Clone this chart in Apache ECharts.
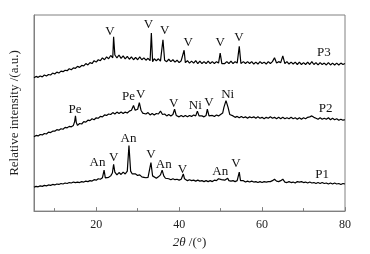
<!DOCTYPE html>
<html>
<head>
<meta charset="utf-8">
<script src="https://cdn.jsdelivr.net/npm/echarts@6/dist/echarts.min.js"></script>
<style>
  html, body { margin: 0; padding: 0; background: #fff; }
  #chart { width: 370px; height: 254px; }
</style>
</head>
<body>
<div id="chart"></div>
<script>
// 刻度
const majorTicks = [20, 40, 60, 80];
const minorTicks = [10, 30, 50, 70];

// 三条衍射谱 [2θ, 相对强度]
const p3 = [
  [5,140],[5.5,141.5],[6,140.5],[6.5,142],[7,141],[7.5,143],[8,142],[8.5,143.5],[9,143],[9.5,145],
  [10,144],[10.5,146],[11,145],[11.5,147],[12,146.5],[12.5,148],[13,147.5],[13.5,149.5],[14,148.5],[14.5,150.5],
  [15,150],[15.5,152],[16,151],[16.5,153],[17,152.5],[17.5,155],[18,153.5],[18.5,156],[19,155],[19.5,158],
  [20,156.5],[20.5,159],[21,158],[21.5,161],[22,159],[22.5,162],[23,160],[23.5,163.5],[24,161],[24.2,183],
  [24.5,164],[25,161],[25.5,164],[26,160.5],[26.5,163],[27,160],[27.5,162.5],[28,159.5],[28.5,162],[29,159],
  [29.5,161.5],[30,159],[30.5,162],[31,159],[31.5,161],[32,158.5],[32.5,160.5],[33,158],[33.3,187],[33.6,157],
  [34,160],[34.5,158],[35,160],[35.5,157.5],[36.1,180],[36.5,158.5],[37,157],[37.5,159.5],[38,157],[38.5,159],
  [39,156.5],[39.5,158.5],[40,156],[40.5,158],[41.2,169],[41.5,156],[42,158],[42.5,155.5],[43,157.5],[43.5,155.5],
  [44,158],[44.5,155],[45,157.5],[45.5,155],[46,157],[46.5,155],[47,157.5],[47.5,155],[48,157],[48.5,155],
  [49,157],[49.5,155.5],[49.9,166],[50.3,155],[50.5,157],[51,155],[51.5,157],[52,155],[52.5,157.5],[53,155],
  [53.5,157],[54,155.5],[54.5,173],[54.9,155],[55.5,157],[56,155],[56.5,157],[57,155],[57.5,157],[58,154.5],
  [58.5,156.5],[59,154.5],[59.5,157],[60,155],[60.5,156.5],[61,154.5],[61.5,157],[62,155],[62.5,157],[63,161],
  [63.5,155.5],[64,157],[64.5,156],[65,163],[65.5,155],[66,157],[66.5,154.5],[67,156.5],[67.5,154.5],[68,156.5],
  [68.5,154],[69,156.5],[69.5,154],[70,156],[70.5,154],[71,156.5],[71.5,154],[72,157],[72.5,154],[73,156],
  [73.5,153.5],[74,156],[74.5,154],[75,155.5],[75.5,153.5],[76,156],[76.5,153.5],[77,155.5],[77.5,153.5],[78,155.5],
  [78.5,153.5],[79,155.5],[79.5,154],[80,155]
];

const p2 = [
  [5,78],[5.5,79.5],[6,79],[6.5,80.5],[7,80],[7.5,81.5],[8,81],[8.5,83],[9,82.5],[9.5,84],
  [10,84],[10.5,85.5],[11,85],[11.5,86.5],[12,86],[12.5,88],[13,87.5],[13.5,89],[14,88.5],[14.5,90],
  [14.8,94],[15,100],[15.2,93],[15.5,90],[16,92],[16.5,91.5],[17,94],[17.5,93.5],[18,95.5],[18.5,95],
  [19,97],[19.5,96],[20,98],[20.5,97.5],[21,99.5],[21.5,99],[22,101],[22.5,100.5],[23,102],[23.5,101.5],
  [24,103.5],[24.5,102],[25,104],[25.5,102.5],[26,104],[26.5,102.5],[27,104],[27.5,103],[28,105],[28.5,106],
  [29,111],[29.4,106],[29.7,104],[30,107],[30.4,114],[30.8,106],[31.2,103],[31.5,104],[32,102],[32.5,103.5],
  [33,101],[33.5,102.5],[34,101],[34.5,102.5],[35,102],[35.5,105],[36,101.5],[36.5,102],[37,100],[37.5,101.5],
  [38,100],[38.5,101.5],[38.9,107],[39.3,100.5],[39.7,101],[40,99],[40.5,100.5],[41,99],[41.5,100.5],[42,99],
  [42.5,100.5],[43,99.5],[43.5,101],[44,100],[44.4,105],[44.8,100],[45.2,98.5],[45.5,100],[46,99],[46.5,100.5],
  [46.8,107],[47.2,100],[47.5,99],[48,100.5],[48.5,99.5],[49,101],[49.5,100],[50,101.5],[50.5,103],[50.8,109],
  [51.3,116],[51.8,109],[52.2,101.5],[52.5,99.5],[53,100],[53.5,98.5],[54,99.5],[54.5,98],[55,99.5],[55.5,98],
  [56,99],[56.5,97.5],[57,99],[57.5,98],[58,99],[58.5,97.5],[59,99],[59.5,97.5],[60,98.5],[60.5,97],
  [61,98.5],[61.5,97.5],[62,99],[62.5,97.5],[63,98.5],[63.5,97],[64,98.5],[64.5,97],[65,98.5],[65.5,97],
  [66,98],[66.5,97],[67,98.5],[67.5,97],[68,98],[68.5,96.5],[69,98],[69.5,96.5],[70,98],[70.5,97],
  [71,98.5],[71.5,99],[72,100],[72.5,98.5],[73,97.5],[73.5,96.5],[74,98],[74.5,96.5],[75,97.5],[75.5,96.5],
  [76,98],[76.5,96],[77,97.5],[77.5,96],[78,97],[78.5,95.5],[79,96.5],[79.5,95.5],[80,96]
];

const p1 = [
  [5,25],[5.5,26],[6,25.5],[6.5,26.5],[7,26],[7.5,27],[8,26.5],[8.5,27.5],[9,27],[9.5,28],
  [10,27.5],[10.5,28.5],[11,28],[11.5,29],[12,28.5],[12.5,29.5],[13,29],[13.5,30],[14,29.5],[14.5,30.5],
  [15,30],[15.5,30.5],[16,30],[16.5,31],[17,30.5],[17.5,31.5],[18,31],[18.5,32],[19,31.5],[19.5,33],
  [20,32.5],[20.5,34],[21,33.5],[21.5,35],[21.9,43],[22.2,35],[22.5,36],[23,35.5],[23.5,37],[23.9,40],
  [24.2,49],[24.5,41],[25,38],[25.5,40.5],[26,38.5],[26.5,41],[27,39],[27.5,42],[27.9,69],[28.3,42],
  [28.7,39],[29,38],[29.5,39],[30,37.5],[30.5,38],[31,36],[31.5,35.5],[32,35],[32.5,35.5],[33.2,51],
  [33.6,37],[34,35],[34.5,34.5],[35,36],[35.5,38],[35.9,43],[36.3,37],[36.7,34.5],[37,33.5],[37.5,34],
  [38,33],[38.5,34],[39,33],[39.5,33.5],[40,32.5],[40.5,33.5],[41,39],[41.3,34],[41.7,33],[42,32],
  [42.5,33],[43,32],[43.5,32.5],[44,31.5],[44.5,32.5],[45,31.5],[45.5,32],[46,31],[46.5,32],[47,31],
  [47.5,32],[48,31],[48.5,32.5],[49,32],[49.5,34],[49.8,36],[50.2,33],[50.5,32],[51,32.5],[51.7,34.5],
  [52,32],[52.5,31.5],[53,32],[53.5,31],[54,32],[54.5,41],[54.8,32],[55,31],[55.5,32],[56,30.5],
  [56.5,31.5],[57,30.5],[57.5,31.5],[58,30.5],[58.5,31],[59,30],[59.5,31],[60,30],[60.5,31],[61,30.5],
  [61.5,31],[62,31],[62.5,32],[63,33.5],[63.5,31.5],[64,31],[64.5,32],[65,33.5],[65.5,30.5],[66,30],
  [66.5,31],[67,30],[67.5,30.5],[68,29.5],[68.5,31],[69,30.5],[69.5,31],[70,30],[70.5,30.5],[71,29.5],
  [71.5,30.5],[72,29.5],[72.5,30],[73,29],[73.5,30],[74,29],[74.5,30],[75,29],[75.5,29.5],[76,28.5],
  [76.5,29.5],[77,28.5],[77.5,29.5],[78,28.5],[78.5,29],[79,28],[79.5,29],[80,28.5]
];

// 物相标注 [2θ, 强度, 文字]
const labelsP3 = [[23.3,189,'V'],[32.6,196,'V'],[36.5,190,'V'],[42.2,177,'V'],[49.9,177,'V'],[54.4,182,'V'],[74.9,167,'P3']];
const labelsP2 = [[14.9,107,'Pe'],[27.8,120,'Pe'],[30.7,122,'V'],[38.7,113,'V'],[43.9,111,'Ni'],[47.2,114,'V'],[51.7,122,'Ni'],[75.3,108,'P2']];
const labelsP1 = [[20.3,51,'An'],[24.2,56,'V'],[27.8,76,'An'],[33.2,59,'V'],[36.3,49,'An'],[40.8,44,'V'],[49.9,42,'An'],[53.7,50,'V'],[74.5,38,'P1']];

const serif = '"Liberation Serif", "DejaVu Serif", serif';

function makeMarks(list) {
    return {
        symbol: 'circle',
        symbolSize: 1,
        itemStyle: { color: 'rgba(0,0,0,0)' },
        label: {
            show: true,
            position: 'inside',
            color: '#111',
            fontFamily: serif,
            fontSize: 13,
            formatter: p => p.name
        },
        data: list.map(l => ({ coord: [l[0], l[1]], name: l[2] }))
    };
}

function makeSeries(data, labels) {
    return {
        type: 'line',
        data: data,
        showSymbol: false,
        symbol: 'none',
        lineStyle: { color: '#000', width: 1.2 },
        silent: true,
        animation: false,
        markPoint: makeMarks(labels)
    };
}

const chart = echarts.init(document.getElementById('chart'));

chart.setOption({
    animation: false,
    grid: {
        left: 29, right: 25, top: 15, bottom: 33,
        show: true, borderColor: '#808080', borderWidth: 1
    },
    xAxis: [
        {
            type: 'value',
            min: 5, max: 80,
            name: '{i|2θ} /(°)',
            nameLocation: 'middle',
            nameGap: 19,
            nameTextStyle: {
                fontFamily: serif, fontSize: 13, color: '#222',
                rich: { i: { fontFamily: serif, fontSize: 13, fontStyle: 'italic', color: '#222' } }
            },
            axisLine: { show: true, lineStyle: { color: '#808080' } },
            axisTick: { show: true, inside: true, length: 4, customValues: majorTicks, lineStyle: { color: '#808080' } },
            axisLabel: { customValues: majorTicks, margin: 8, fontFamily: serif, fontSize: 12, color: '#222' },
            splitLine: { show: false }
        },
        {
            type: 'value',
            min: 5, max: 80,
            position: 'bottom',
            axisLine: { show: false },
            axisTick: { show: true, inside: true, length: 3, customValues: minorTicks, lineStyle: { color: '#808080' } },
            axisLabel: { show: false },
            splitLine: { show: false }
        }
    ],
    yAxis: {
        type: 'value',
        min: 0, max: 206,
        name: 'Relative intensity /(a.u.)',
        nameLocation: 'middle',
        nameGap: 13,
        nameTextStyle: { fontFamily: serif, fontSize: 13, color: '#222' },
        axisLine: { show: true, lineStyle: { color: '#808080' } },
        axisTick: { show: false },
        axisLabel: { show: false },
        splitLine: { show: false }
    },
    series: [
        makeSeries(p1, labelsP1),
        makeSeries(p2, labelsP2),
        makeSeries(p3, labelsP3)
    ]
});
</script>
</body>
</html>
